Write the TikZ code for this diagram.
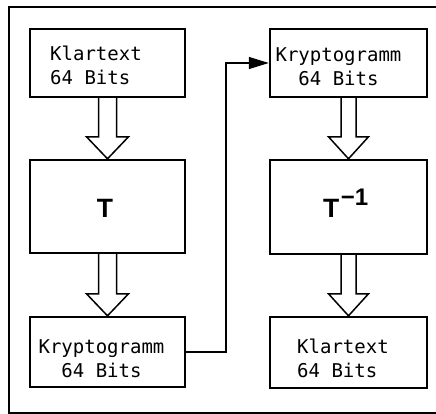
\documentclass[tikz,border=0pt]{standalone}
\usepackage{fontspec}
\newfontfamily\monof{DejaVu Sans Mono}
\newfontfamily\sansbf{Liberation Sans Bold}
\usetikzlibrary{arrows.meta,calc}
\tikzset{
  box/.style={draw, line width=2.4pt, minimum width=155pt, inner sep=0pt},
  txt/.style={inner sep=0pt, font=\monof\fontsize{19}{24}\selectfont},
  bigT/.style={inner sep=0pt, font=\sansbf\fontsize{26.5}{26.5}\selectfont},
  hollow/.style={draw, line width=1.5pt, line join=miter},
  conn/.style={draw, line width=1.2pt, -{Triangle[length=20pt,width=12pt]}},
  frame/.style={draw, line width=1.1pt}
}
\newcommand{\hollowarrow}[4]{% from, to, shaft half width, head half width
  \draw[hollow] ($(#1.south)+(-#3,0)$) -- ($(#2.north)+(-#3,-22)$)
    -- ($(#2.north)+(-#4,-22)$) -- (#2.north) -- ($(#2.north)+(#4,-22)$)
    -- ($(#2.north)+(#3,-22)$) -- ($(#1.south)+(#3,0)$);}
\begin{document}
\begin{tikzpicture}[x=1pt,y=-1pt]
\useasboundingbox (0,0) rectangle (436,414);
\draw[frame] (445,7) -- (9,7) -- (9,413) -- (445,413);
% left column
\node[box, minimum height=68pt] (klar1) at (107.5,63) {};
\node[box, minimum height=93pt] (t) at (107.5,206.5) {};
\node[box, minimum height=70pt] (kry1) at (107.5,352) {};
% right column
\node[box, minimum width=157pt, minimum height=68pt] (kry2) at (348.5,63) {};
\node[box, minimum width=157pt, minimum height=94pt] (tinv) at (348.5,207) {};
\node[box, minimum width=157pt, minimum height=71pt] (klar2) at (348.5,352.5) {};
% texts (base anchor = baseline of the last line)
\node[txt, align=left, anchor=base west] (klar1t) at (50,85) {Klartext\\64 Bits};
\node[txt, align=center, anchor=base] (kry1t) at (101.5,377) {Kryptogramm\\64 Bits};
\node[txt, align=center, anchor=base] (kry2t) at (338.5,86) {Kryptogramm\\64 Bits};
\node[txt, align=left, anchor=base west] (klar2t) at (297,377) {Klartext\\64 Bits};
\node[bigT, anchor=base] (tt) at (105,217) {T};
\node[bigT, anchor=base west] (tinvt) at (323,217) {T\raisebox{12pt}{\fontsize{24}{24}\selectfont\kern1.5pt −1}};
% hollow arrows
\hollowarrow{klar1}{t}{9}{21}
\hollowarrow{t}{kry1}{9}{21}
\hollowarrow{kry2}{tinv}{7.5}{20}
\hollowarrow{tinv}{klar2}{7.5}{20}
% connector
\coordinate (bend) at (226,63);
\draw[conn] (kry1.east) -| (bend) -- (kry2.west);
\end{tikzpicture}
\end{document}
